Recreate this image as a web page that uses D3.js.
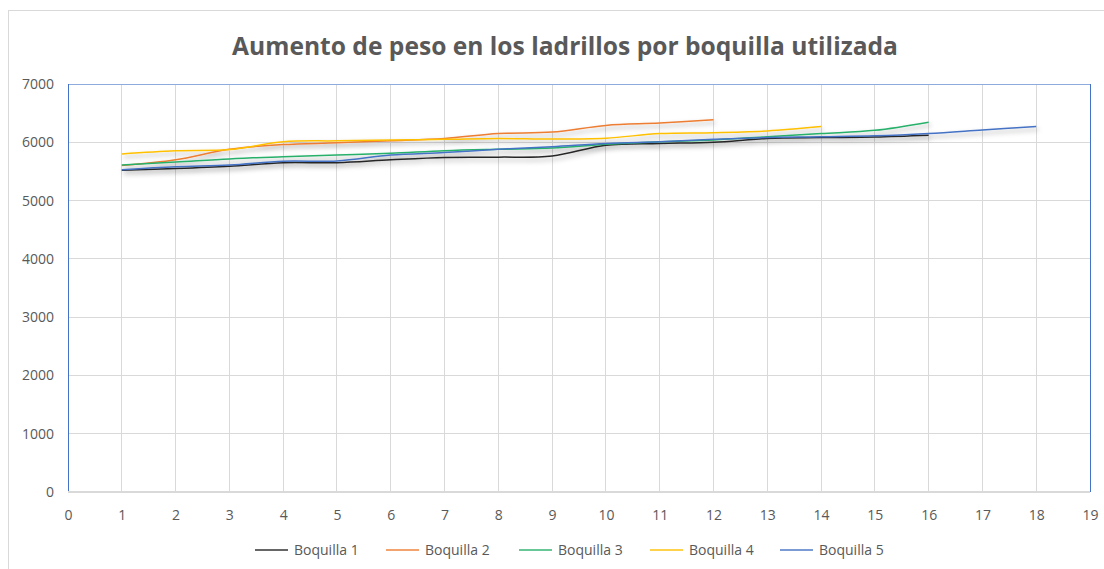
<!DOCTYPE html>
<html><head><meta charset="utf-8">
<script src="https://cdn.jsdelivr.net/npm/d3@7"></script>
<style>body{margin:0;background:#fff}svg{display:block}text{font-family:"Open Sans","Liberation Sans",sans-serif}</style>
</head><body><svg id="c" width="1104" height="569"></svg>
<script>
const title = "Aumento de peso en los ladrillos por boquilla utilizada";
const seriesNames = ["Boquilla 1","Boquilla 2","Boquilla 3","Boquilla 4","Boquilla 5"];
const seriesColors = ["#262626","#ed7d31","#27b06a","#ffc000","#4472c4"];
const b1 = [5520,5550,5590,5650,5650,5700,5740,5745,5765,5950,5980,6000,6065,6080,6090,6120];
const b2 = [5600,5700,5880,5960,5990,6025,6065,6150,6175,6290,6330,6385];
const b3 = [5610,5660,5715,5750,5780,5810,5855,5880,5900,5965,6010,6040,6095,6150,6205,6345];
const b4 = [5800,5855,5875,6010,6025,6040,6050,6065,6055,6070,6150,6165,6195,6270];
const b5 = [5530,5580,5610,5675,5680,5780,5825,5880,5925,5980,6010,6050,6080,6095,6110,6150,6210,6270];
const seriesValues = [b1,b2,b3,b4,b5];
const xTicks = d3.range(0,20);
const yTicks = [0,1000,2000,3000,4000,5000,6000,7000];

const svg = d3.select("#c");
const L=68,R=1090,T=84,B=492;
const x = d3.scaleLinear().domain([0,19]).range([L,R]);
const y = d3.scaleLinear().domain([0,7000]).range([B,T]);

svg.append("rect").attr("x",8.5).attr("y",10.5).attr("width",1200).attr("height",700)
  .attr("fill","none").attr("stroke","#d9d9d9").attr("stroke-width",1);

const defs = svg.append("defs");
const f = defs.append("filter").attr("id","sh").attr("x","-10%").attr("y","-50%").attr("width","120%").attr("height","300%");
f.append("feDropShadow").attr("dx",2).attr("dy",3).attr("stdDeviation",2.5).attr("flood-color","#000").attr("flood-opacity",0.35);

svg.append("text").attr("x",565).attr("y",55).attr("text-anchor","middle")
  .attr("font-size",24.6).attr("font-weight","bold").attr("fill","#595959").text(title);

svg.append("g").selectAll("line").data(xTicks.slice(1)).join("line")
  .attr("x1",d=>x(d)).attr("x2",d=>x(d)).attr("y1",T).attr("y2",B)
  .attr("stroke","#d9d9d9").attr("stroke-width",1).attr("shape-rendering","crispEdges");
svg.append("g").selectAll("line").data(yTicks.slice(1)).join("line")
  .attr("x1",L).attr("x2",R).attr("y1",d=>y(d)).attr("y2",d=>y(d))
  .attr("stroke","#d9d9d9").attr("stroke-width",1).attr("shape-rendering","crispEdges");

svg.append("line").attr("x1",L).attr("x2",R).attr("y1",T).attr("y2",T).attr("stroke","#8faadc").attr("shape-rendering","crispEdges");
svg.append("line").attr("x1",L).attr("x2",L).attr("y1",T).attr("y2",B).attr("stroke","#4472c4").attr("shape-rendering","crispEdges");
svg.append("line").attr("x1",R).attr("x2",R).attr("y1",T).attr("y2",B).attr("stroke","#4472c4").attr("shape-rendering","crispEdges");
svg.append("line").attr("x1",L).attr("x2",R).attr("y1",B).attr("y2",B).attr("stroke","#d9d9d9").attr("stroke-width",2);

const xAxis = svg.append("g").attr("transform",`translate(0,${B})`)
  .call(d3.axisBottom(x).tickValues(xTicks).tickSize(0).tickPadding(18).tickFormat(d3.format("d")));
const yAxis = svg.append("g").attr("transform",`translate(${L},0)`)
  .call(d3.axisLeft(y).tickValues(yTicks).tickSize(0).tickPadding(14).tickFormat(d3.format("d")));
[xAxis,yAxis].forEach(g=>{g.select(".domain").remove();
  g.selectAll("text").attr("font-size",14).attr("fill","#595959").attr("font-family","'Open Sans',sans-serif");});

const line = d3.line().x((d,i)=>x(i+1)).y(d=>y(d)).curve(d3.curveCatmullRom.alpha(0.5));
const g = svg.append("g").attr("filter","url(#sh)");
seriesValues.forEach((vals,k)=>{
  g.append("path").datum(vals).attr("d",line).attr("fill","none")
   .attr("stroke",seriesColors[k]).attr("stroke-width",1.5).attr("stroke-linejoin","round");
});

const leg = svg.append("g");
const lx = [255,386,519,650,780];
seriesNames.forEach((n,k)=>{
  leg.append("line").attr("x1",lx[k]).attr("x2",lx[k]+33).attr("y1",550).attr("y2",550)
    .attr("stroke",seriesColors[k]).attr("stroke-width",2).attr("opacity",0.7);
  leg.append("text").attr("x",lx[k]+39).attr("y",555).attr("font-size",14).attr("fill","#595959").text(n);
});
</script></body></html>
